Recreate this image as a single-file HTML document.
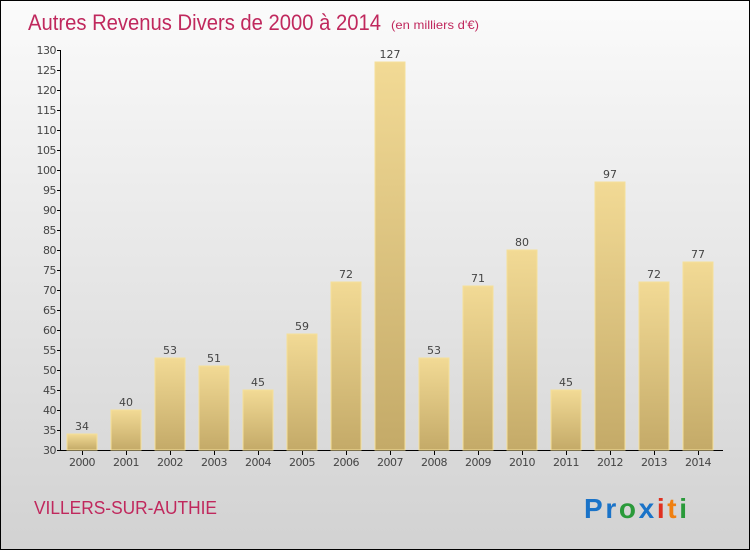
<!DOCTYPE html>
<html><head><meta charset="utf-8"><style>
body{margin:0}
#c{width:748px;height:548px;border:1px solid #000;background:linear-gradient(#fbfbfb,#f0f0f0 25%,#d2d2d2);position:relative;font-family:"DejaVu Sans","Liberation Sans",sans-serif}
</style></head><body>
<div id="c">
<svg id="s" width="748" height="548" style="position:absolute;left:0;top:0">
<defs><linearGradient id="g" x1="0" y1="0" x2="0" y2="1"><stop offset="0" stop-color="#f2da95"/><stop offset="1" stop-color="#c4aa68"/></linearGradient></defs>
<text x="27" y="29" font-size="22" fill="#c0285d" font-family="Liberation Sans,sans-serif" textLength="353" lengthAdjust="spacingAndGlyphs">Autres Revenus Divers de 2000 à 2014</text>
<text x="390" y="28" font-size="12" fill="#c0285d" font-family="Liberation Sans,sans-serif" textLength="88" lengthAdjust="spacingAndGlyphs">(en milliers d'€)</text>
<g id="ax"></g><g id="bars"></g>
<text x="33" y="513" font-size="18" fill="#c0285d" font-family="Liberation Sans,sans-serif" textLength="183" lengthAdjust="spacingAndGlyphs">VILLERS-SUR-AUTHIE</text>
<text x="583" y="517" font-size="28" font-weight="bold" font-family="Liberation Sans,sans-serif" textLength="103" lengthAdjust="spacing"><tspan fill="#1a73c8">Pr</tspan><tspan fill="#2a9a3a">o</tspan><tspan fill="#1a73c8">x</tspan><tspan fill="#e03020">i</tspan><tspan fill="#f08010">t</tspan><tspan fill="#2a9a3a">i</tspan></text>
</svg></div>
<script>
const years=["2000","2001","2002","2003","2004","2005","2006","2007","2008","2009","2010","2011","2012","2013","2014"];
const values=[34,40,53,51,45,59,72,127,53,71,80,45,97,72,77];
const ticks=[30,35,40,45,50,55,60,65,70,75,80,85,90,95,100,105,110,115,120,125,130];
const NS="http://www.w3.org/2000/svg";
const y=v=>449-(v-30)*4;
const x=i=>81+i*44;
function mk(t,a,p){const e=document.createElementNS(NS,t);for(const k in a)e.setAttribute(k,a[k]);p.appendChild(e);return e;}
const ax=document.getElementById('ax'),bg=document.getElementById('bars');
let l=mk('line',{x1:59.5,y1:49,x2:59.5,y2:450,stroke:'#000'},ax);


l=mk('line',{x1:59,y1:449.5,x2:722,y2:449.5,stroke:'#000'},ax);


ticks.forEach(t=>{mk('line',{x1:56,x2:60,y1:y(t)+.5,y2:y(t)+.5,stroke:'#000'},ax);
const tx=mk('text',{x:55,y:y(t)+4,'text-anchor':'end','font-size':11,fill:'#444','letter-spacing':'-0.5'},ax);tx.textContent=t;

});
years.forEach((yr,i)=>{const v=values[i];
const r=mk('rect',{x:x(i)-15,y:y(v),width:30,height:449-y(v),fill:'url(#g)',stroke:'#f5e09a','stroke-width':1},bg);


mk('line',{x1:x(i)+.5,x2:x(i)+.5,y1:450,y2:454,stroke:'#000'},ax);
const t=mk('text',{x:x(i),y:465,'text-anchor':'middle','font-size':11,fill:'#444','letter-spacing':'-0.5'},ax);t.textContent=yr;


const vl=mk('text',{x:x(i),y:y(v)-4,'text-anchor':'middle','font-size':11,fill:'#444'},bg);vl.textContent=v;

});
</script>
</body></html>
